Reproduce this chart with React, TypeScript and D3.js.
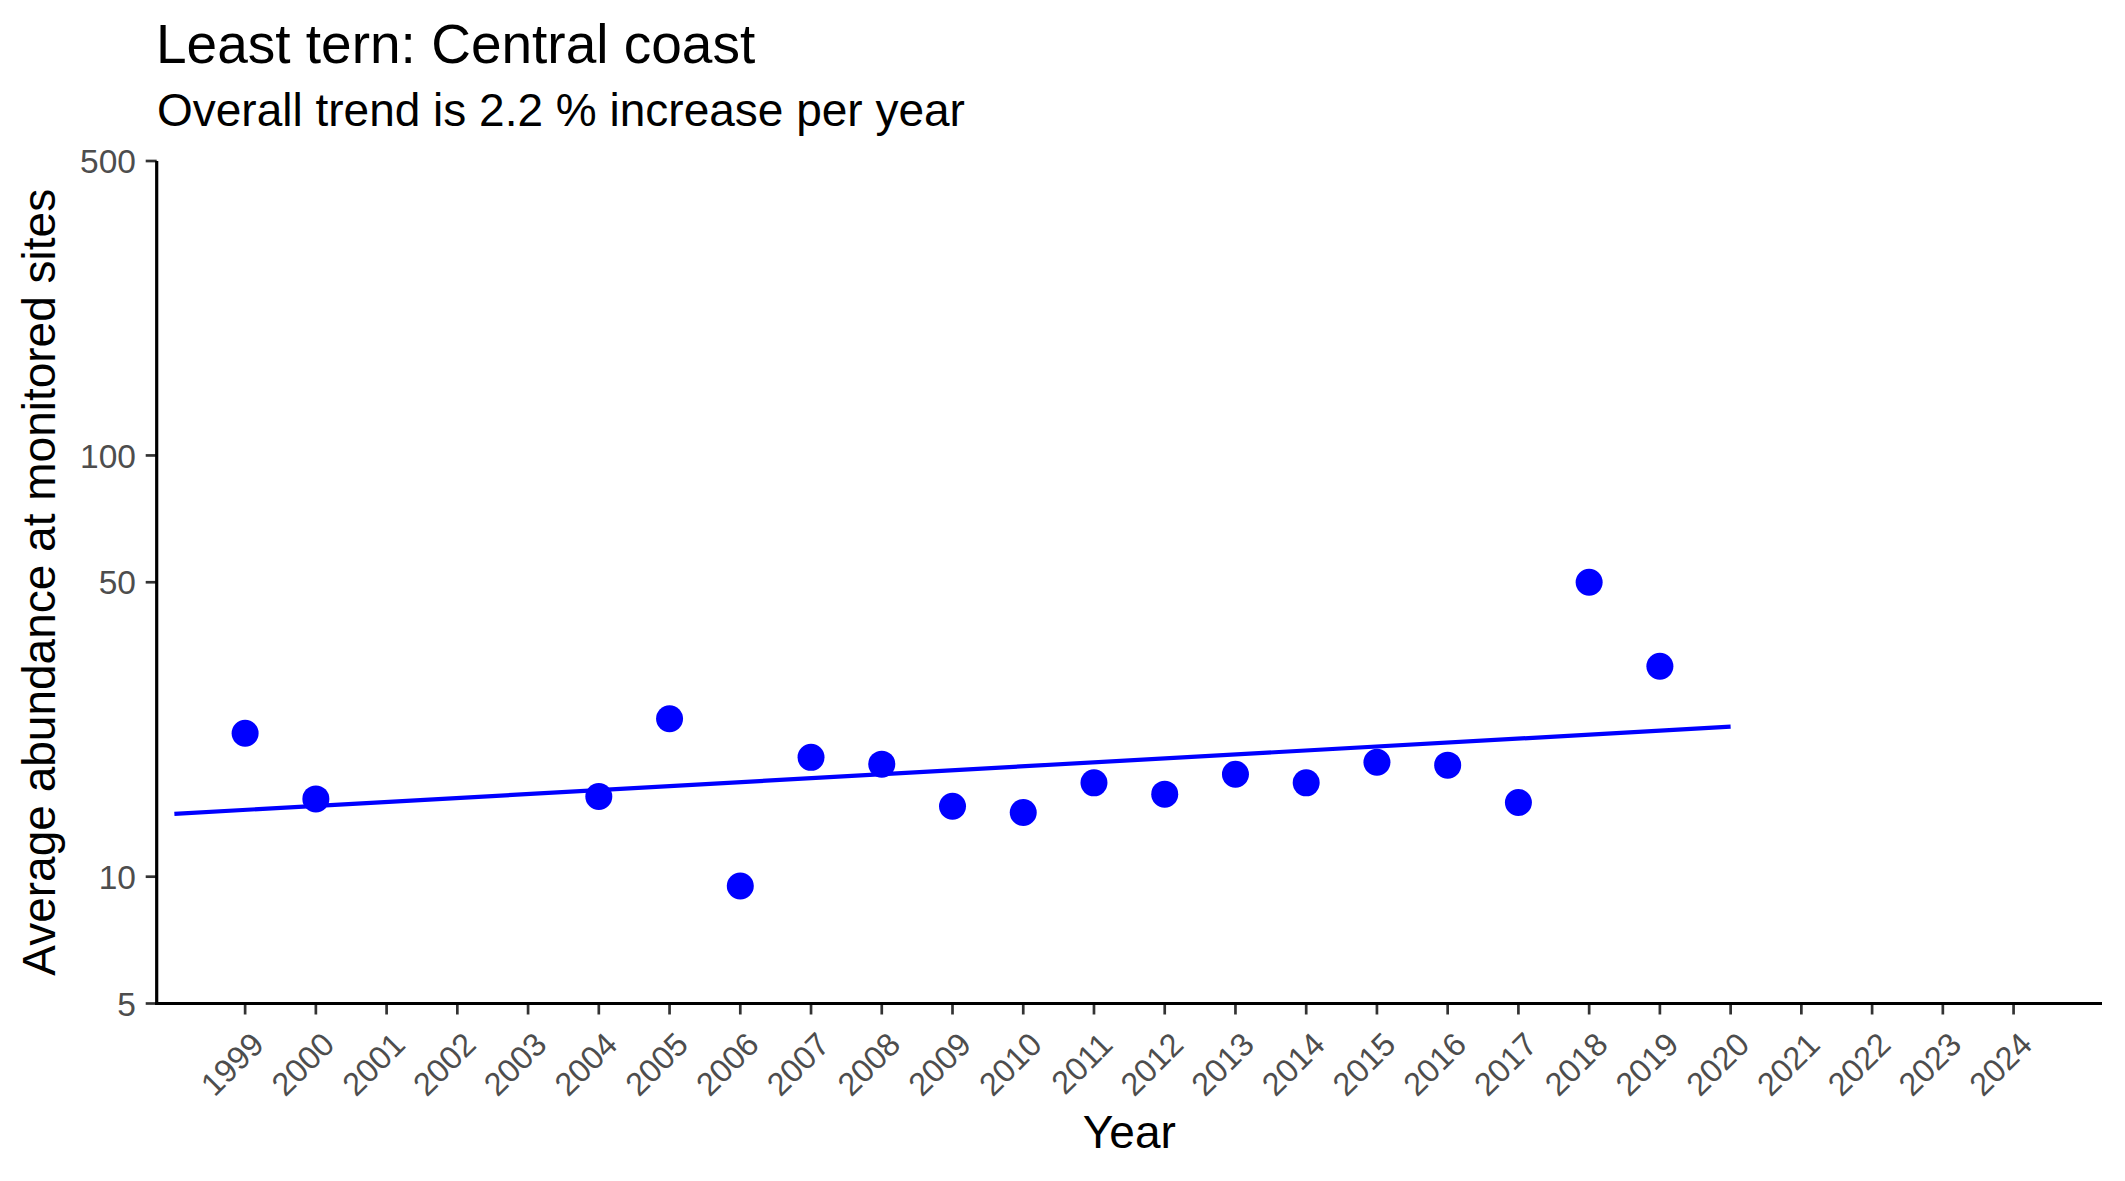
import React from "react";
import * as d3 from "d3";

// Survey years with a recorded average abundance
const surveyYears = [1999, 2000, 2004, 2005, 2006, 2007, 2008, 2009, 2010, 2011, 2012, 2013, 2014, 2015, 2016, 2017, 2018, 2019];
const abundance = [21.9, 15.3, 15.5, 23.7, 9.5, 19.2, 18.5, 14.7, 14.2, 16.7, 15.7, 17.5, 16.7, 18.7, 18.4, 15.0, 50, 31.6];

// Fitted log-linear trend (2.2 % per year)
const trendYears = [1998, 2020];
const trendValues = [14.1, 22.7];

const yearTicks = [1999, 2000, 2001, 2002, 2003, 2004, 2005, 2006, 2007, 2008, 2009, 2010, 2011, 2012, 2013, 2014, 2015, 2016, 2017, 2018, 2019, 2020, 2021, 2022, 2023, 2024];
const abundanceTicks = [5, 10, 50, 100, 500];

const W = 2125;
const H = 1181;
const panel = { left: 156.7, right: 2102, top: 161, bottom: 1003.5 };
const font = "'Liberation Sans', Arial, Helvetica, sans-serif";

export default function App() {
  const x = d3.scaleLinear().domain([1997.75, 2025.25]).range([panel.left, panel.right]);
  const y = d3.scaleLog().domain([5, 500]).range([panel.bottom, panel.top]);

  const trendLine = d3
    .line<number>()
    .x((d, i) => x(trendYears[i]))
    .y((d) => y(d))(trendValues);

  return (
    <svg
      width={W}
      height={H}
      style={{ position: "absolute", left: 0, top: 0, background: "#fff" }}
      fontFamily={font}
    >
      <rect width={W} height={H} fill="#fff" />

      {/* titles */}
      <text x={156} y={63} fontSize={55} fill="#000">Least tern: Central coast</text>
      <text x={157} y={126} fontSize={46} fill="#000">Overall trend is 2.2 % increase per year</text>

      {/* y axis */}
      {abundanceTicks.map((t) => (
        <g key={t}>
          <line x1={panel.left - 11} x2={panel.left} y1={y(t)} y2={y(t)} stroke="#333" strokeWidth={2.7} />
          <text x={136} y={y(t)} dy="0.36em" textAnchor="end" fontSize={33.5} fill="#4D4D4D">{t}</text>
        </g>
      ))}
      <text
        transform={`translate(55, ${(panel.top + panel.bottom) / 2}) rotate(-90)`}
        textAnchor="middle"
        fontSize={46}
        fill="#000"
      >
        Average abundance at monitored sites
      </text>

      {/* x axis */}
      {yearTicks.map((t) => (
        <g key={t}>
          <line x1={x(t)} x2={x(t)} y1={panel.bottom} y2={panel.bottom + 11} stroke="#333" strokeWidth={2.7} />
          <text
            transform={`translate(${x(t) + 4}, 1030) rotate(-45)`}
            dy="0.72em"
            textAnchor="end"
            fontSize={32.5}
            fill="#4D4D4D"
          >
            {t}
          </text>
        </g>
      ))}
      <text x={(panel.left + panel.right) / 2} y={1148} textAnchor="middle" fontSize={46} fill="#000">Year</text>

      {/* axis lines */}
      <line x1={panel.left} x2={panel.left} y1={panel.top} y2={panel.bottom + 1.5} stroke="#000" strokeWidth={3.2} />
      <line x1={panel.left - 1.5} x2={panel.right} y1={panel.bottom} y2={panel.bottom} stroke="#000" strokeWidth={3.2} />

      {/* trend */}
      <path d={trendLine ?? ""} fill="none" stroke="#0000FF" strokeWidth={4.2} />

      {/* observations */}
      {surveyYears.map((yr, i) => (
        <circle key={yr} cx={x(yr)} cy={y(abundance[i])} r={13.5} fill="#0000FF" />
      ))}
    </svg>
  );
}
